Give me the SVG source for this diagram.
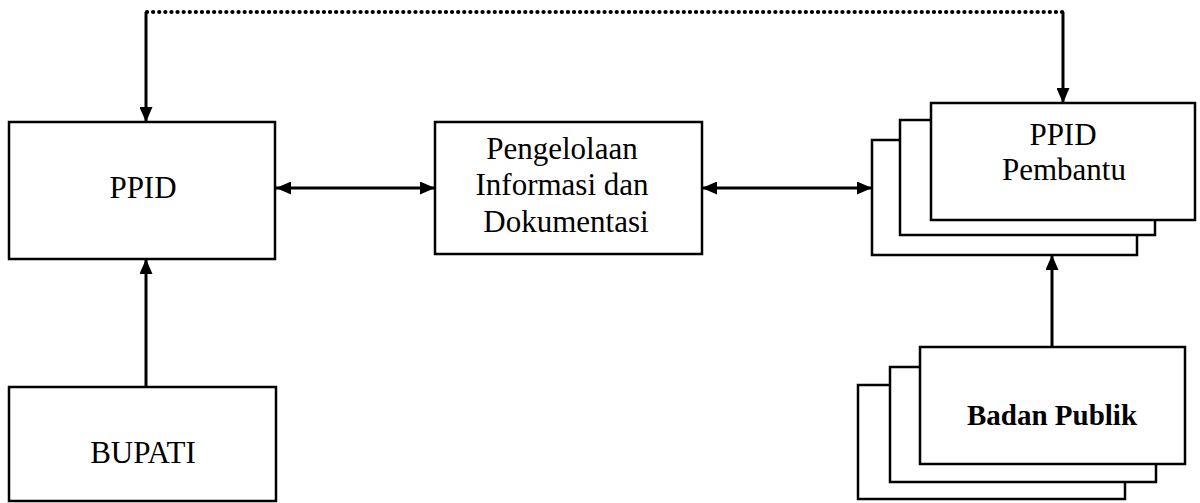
<svg xmlns="http://www.w3.org/2000/svg" width="1200" height="503" viewBox="0 0 1200 503">
<style>
.box{fill:#fff;stroke:#000;stroke-width:2.5}
.t{font-family:"Liberation Serif","Times New Roman",serif;font-size:31px;fill:#000;text-anchor:middle}
.b{font-weight:bold;font-size:29px}
.ln{stroke:#000;stroke-width:3;fill:none}
.dot{stroke:#000;stroke-width:4.2;fill:none;stroke-dasharray:0.1 6;stroke-linecap:round}
</style>
<defs>
<marker id="ah" viewBox="0 0 15 13" refX="15" refY="6.5" markerWidth="15" markerHeight="13" markerUnits="userSpaceOnUse" orient="auto-start-reverse">
<path d="M0,0 L15,6.5 L0,13 Z" fill="#000"/>
</marker>
</defs>
<rect width="1200" height="503" fill="#fff"/>
<g id="connectors">
<path class="dot" d="M147,12 H1063"/>
<path class="ln" d="M146,12 V122" marker-end="url(#ah)"/>
<path class="ln" d="M1063,12 V103" marker-end="url(#ah)"/>
<path class="ln" d="M276,188 H435" marker-start="url(#ah)" marker-end="url(#ah)"/>
<path class="ln" d="M702,188 H872" marker-start="url(#ah)" marker-end="url(#ah)"/>
<path class="ln" d="M146,387 V259" marker-end="url(#ah)"/>
<path class="ln" d="M1052,347 V255" marker-end="url(#ah)"/>
</g>
<g id="ppid">
<rect class="box" x="9" y="122" width="266" height="137"/>
<text class="t" x="143" y="198">PPID</text>
</g>
<g id="bupati">
<rect class="box" x="9" y="387" width="267" height="114"/>
<text class="t" x="143" y="463">BUPATI</text>
</g>
<g id="pengelolaan">
<rect class="box" x="435" y="122" width="267" height="132"/>
<text class="t" x="562" y="159">Pengelolaan</text>
<text class="t" x="562" y="195">Informasi dan</text>
<text class="t" x="566" y="232">Dokumentasi</text>
</g>
<g id="ppid-pembantu">
<rect class="box" x="872" y="140" width="265" height="115"/>
<rect class="box" x="900" y="120" width="255" height="115"/>
<rect class="box" x="931" y="103" width="264" height="117"/>
<text class="t" x="1063" y="145">PPID</text>
<text class="t" x="1064" y="180">Pembantu</text>
</g>
<g id="badan-publik">
<rect class="box" x="858" y="385" width="267" height="114"/>
<rect class="box" x="890" y="367" width="266" height="115"/>
<rect class="box" x="920" y="347" width="265" height="117"/>
<text class="t b" x="1052" y="425">Badan Publik</text>
</g>
</svg>
